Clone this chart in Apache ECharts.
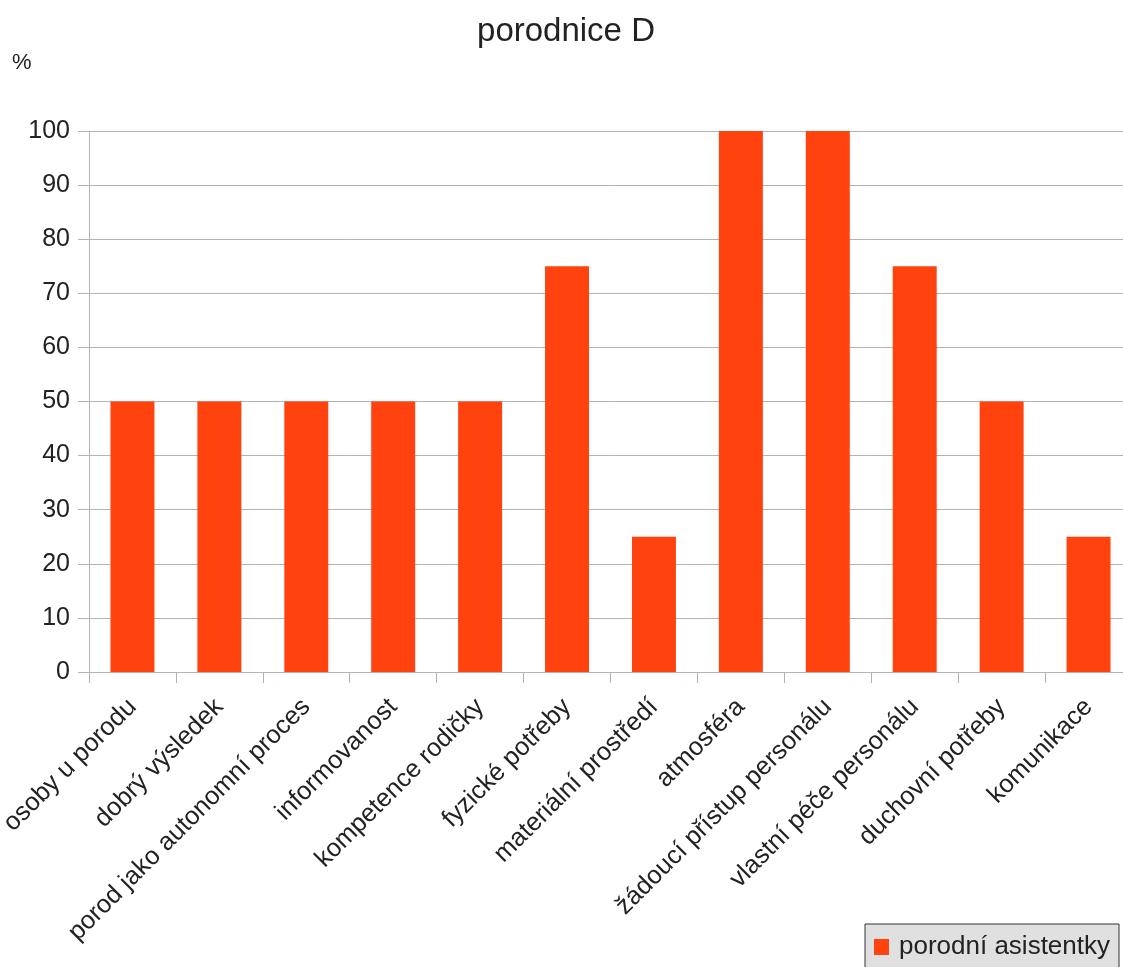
<!DOCTYPE html>
<html>
<head>
<meta charset="utf-8">
<script src="https://cdn.jsdelivr.net/npm/echarts@6/dist/echarts.min.js"></script>
<style>
  html, body { margin: 0; padding: 0; background: #fff; overflow: hidden; }
  /* canvas is a little wider than the window, so the plot runs off the right edge */
  #chart { width: 1132px; height: 967px; }
</style>
</head>
<body>
<div id="chart"></div>
<script>
// Categories of the survey and the share (%) for each
const categories = [
  'osoby u porodu',
  'dobrý výsledek',
  'porod jako autonomní proces',
  'informovanost',
  'kompetence rodičky',
  'fyzické potřeby',
  'materiální prostředí',
  'atmosféra',
  'žádoucí přístup personálu',
  'vlastní péče personálu',
  'duchovní potřeby',
  'komunikace'
];
const seriesName = 'porodní asistentky';
const values = [50, 50, 50, 50, 50, 75, 25, 100, 100, 75, 50, 25];
const titleText = 'porodnice D';
const unitLabel = '%';

const font = '"Liberation Sans", Arial, sans-serif';
const chart = echarts.init(document.getElementById('chart'));
chart.setOption({
  backgroundColor: '#ffffff',
  animation: false,
  textStyle: { fontFamily: font },
  title: {
    text: titleText,
    left: 'center',
    top: 10,
    textStyle: { fontFamily: font, fontSize: 33, fontWeight: 'normal', color: '#222' }
  },
  graphic: [{
    type: 'text',
    left: 12,
    top: 52,
    style: { text: unitLabel, font: '22px ' + font, fill: '#222' }
  }],
  legend: {
    data: [seriesName],
    left: 865,
    top: 924,
    orient: 'horizontal',
    icon: 'rect',
    itemWidth: 15,
    itemHeight: 16,
    itemGap: 8,
    padding: [10, 9, 14, 9],
    backgroundColor: '#e0e0e0',
    borderColor: '#333',
    borderWidth: 1,
    borderRadius: 0,
    textStyle: { fontFamily: font, fontSize: 26, color: '#222', padding: [0, 0, 0, 5] }
  },
  grid: {
    left: 89, right: 0, top: 131, bottom: 295,
    containLabel: false,
    outerBoundsMode: 'none'
  },
  xAxis: {
    type: 'category',
    data: categories,
    boundaryGap: true,
    axisLine: { show: true, lineStyle: { color: '#b3b3b3', width: 1 } },
    axisTick: { show: true, length: 11, lineStyle: { color: '#b3b3b3' } },
    axisLabel: {
      rotate: 45,
      interval: 0,
      margin: 31,
      fontSize: 25.5,
      fontFamily: font,
      color: '#222'
    }
  },
  yAxis: {
    type: 'value',
    min: 0,
    max: 100,
    interval: 10,
    axisLine: { show: true, lineStyle: { color: '#b3b3b3', width: 1 } },
    axisTick: { show: true, length: 11, lineStyle: { color: '#b3b3b3' } },
    axisLabel: { margin: 19, fontSize: 25, fontFamily: font, color: '#222' },
    splitLine: { show: true, lineStyle: { color: '#b3b3b3', width: 1 } }
  },
  series: [{
    name: seriesName,
    type: 'bar',
    data: values,
    barWidth: '50.6%',
    itemStyle: { color: '#ff420e' }
  }]
});
</script>
</body>
</html>
